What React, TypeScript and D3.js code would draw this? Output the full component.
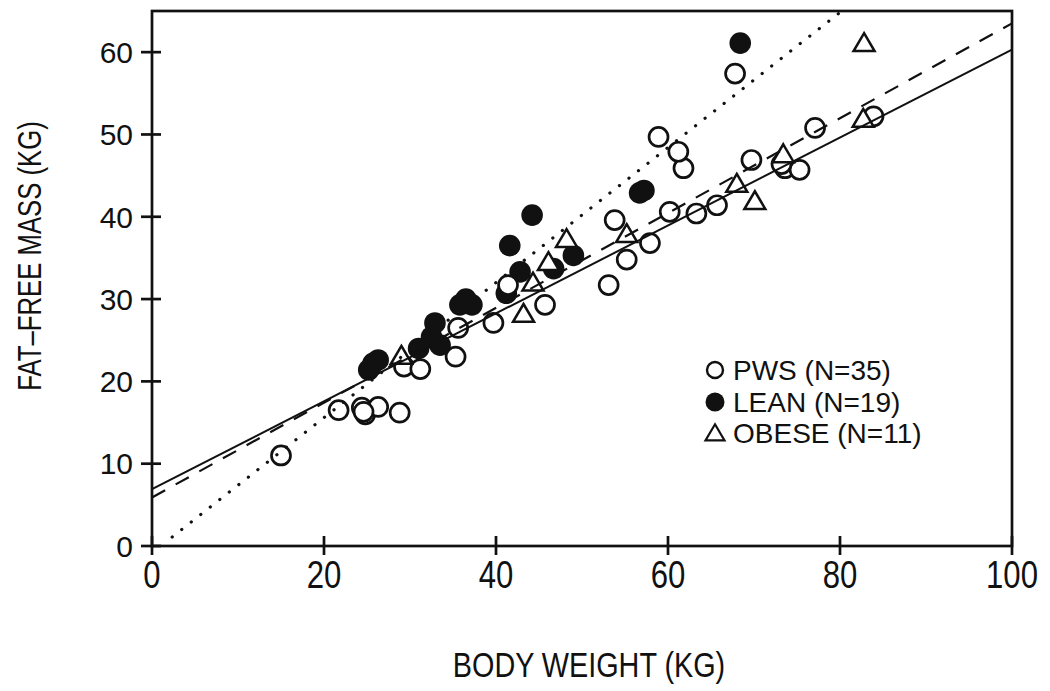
import * as d3 from "d3";

// PWS group (open circles)
const pwsWeight = [15.0, 21.7, 24.4, 24.8, 26.3, 28.8, 29.3, 31.2, 35.3, 35.6, 39.7, 45.7, 53.1, 55.2, 53.8, 57.9, 60.2, 63.3, 65.7, 61.8, 58.9, 61.2, 67.8, 69.7, 73.6, 75.3, 77.1, 83.9, 41.4, 24.6, 73.2];
const pwsFfm = [11.0, 16.5, 16.8, 16.0, 16.9, 16.2, 21.8, 21.5, 23.0, 26.5, 27.1, 29.3, 31.7, 34.8, 39.6, 36.8, 40.6, 40.4, 41.4, 45.9, 49.7, 47.9, 57.4, 46.9, 45.9, 45.7, 50.8, 52.2, 31.7, 16.3, 46.4];

// lean group (filled circles)
const leanWeight = [68.4, 56.7, 57.2, 44.2, 41.6, 42.8, 41.2, 46.7, 49.0, 35.8, 37.2, 36.5, 32.9, 32.5, 31.0, 33.5, 25.7, 25.2, 26.3];
const leanFfm = [61.1, 42.9, 43.2, 40.2, 36.5, 33.3, 30.7, 33.7, 35.3, 29.3, 29.3, 30.0, 27.1, 25.4, 24.0, 24.4, 22.2, 21.4, 22.6];

// obese group (open triangles)
const obeseWeight = [43.2, 44.3, 46.1, 48.2, 55.2, 68.0, 70.1, 73.4, 82.8, 82.7, 29.0];
const obeseFfm = [28.1, 31.9, 34.4, 37.2, 37.8, 43.9, 41.8, 47.5, 61.0, 51.8, 23.0];

// regression lines: [x0, y0, x1, y1]
const solidLine = [0, 6.9, 100, 60.3];
const dashedLine = [0, 5.9, 100, 63.5];
const dottedLine = [2.35, 1.1, 80.2, 65];

const xTicks = [0, 20, 40, 60, 80, 100];
const yTicks = [0, 10, 20, 30, 40, 50, 60];

const legendLabels = ["PWS (N=35)", "LEAN (N=19)", "OBESE (N=11)"];

const W = 1050;
const H = 691;
const left = 152, right = 1012, top = 11, bottom = 546;
const font = "'Liberation Sans', Arial, Helvetica, sans-serif";

function tri(cx: number, cy: number, s: number) {
  const h = s * 0.85;
  return `M${cx},${cy - h * 0.6}L${cx + s / 2},${cy + h * 0.4}L${cx - s / 2},${cy + h * 0.4}Z`;
}

export default function App() {
  const x = d3.scaleLinear().domain([0, 100]).range([left, right]);
  const y = d3.scaleLinear().domain([0, 65]).range([bottom, top]);

  const seg = (l: number[]) => `M${x(l[0])},${y(l[1])}L${x(l[2])},${y(l[3])}`;

  return (
    <svg width={W} height={H} style={{ position: "absolute", left: 0, top: 0, background: "#fff" }} fontFamily={font}>
      <rect x={0} y={0} width={W} height={H} fill="#fff" />

      {/* lean: filled */}
      {leanWeight.map((w, i) => (
        <circle key={"l" + i} cx={x(w)} cy={y(leanFfm[i])} r={10.8} fill="#111" />
      ))}
      {/* pws: open */}
      {pwsWeight.map((w, i) => (
        <circle key={"p" + i} cx={x(w)} cy={y(pwsFfm[i])} r={9.5} fill="#fff" stroke="#111" strokeWidth={2.7} />
      ))}
      {/* obese: triangles */}
      {obeseWeight.map((w, i) => (
        <path key={"o" + i} d={tri(x(w), y(obeseFfm[i]), 21)} fill="#fff" stroke="#111" strokeWidth={2.5} strokeLinejoin="miter" />
      ))}

      {/* regression lines */}
      <path d={seg(solidLine)} stroke="#111" strokeWidth={2} fill="none" />
      <path d={seg(dashedLine)} stroke="#111" strokeWidth={2.2} fill="none" strokeDasharray="15 12" />
      <path d={seg(dottedLine)} stroke="#111" strokeWidth={3.2} fill="none" strokeDasharray="0.1 12" strokeLinecap="round" />

      {/* frame */}
      <rect x={left} y={top} width={right - left} height={bottom - top} fill="none" stroke="#111" strokeWidth={2.7} />

      {/* y axis */}
      {yTicks.map((t) => (
        <g key={"yt" + t}>
          <line x1={left - 11} x2={left + 9} y1={y(t)} y2={y(t)} stroke="#111" strokeWidth={2.7} />
          <text x={133} y={y(t)} dy="0.36em" textAnchor="end" fontSize={30} fill="#111">{t}</text>
        </g>
      ))}
      {/* x axis */}
      {xTicks.map((t) => (
        <g key={"xt" + t}>
          <line x1={x(t)} x2={x(t)} y1={bottom - 10} y2={bottom + 9} stroke="#111" strokeWidth={2.7} />
          <text transform={`translate(${x(t)},588) scale(0.82,1)`} textAnchor="middle" fontSize={38} fill="#111">{t}</text>
        </g>
      ))}

      <text transform={`translate(589,677) scale(0.8,1)`} textAnchor="middle" fontSize={36} fill="#111">BODY WEIGHT (KG)</text>
      <text transform={`translate(41,256) rotate(-90) scale(0.78,1)`} textAnchor="middle" fontSize={33} fill="#111">FAT–FREE MASS (KG)</text>

      {/* legend */}
      <circle cx={715} cy={370} r={8} fill="#fff" stroke="#111" strokeWidth={2.4} />
      <circle cx={715} cy={402} r={9.5} fill="#111" />
      <path d={tri(715, 434, 19)} fill="#fff" stroke="#111" strokeWidth={2.2} />
      {legendLabels.map((s, i) => (
        <text key={s} x={733} y={370 + i * 31.5} dy="0.36em" fontSize={28} fill="#111">{s}</text>
      ))}
    </svg>
  );
}
